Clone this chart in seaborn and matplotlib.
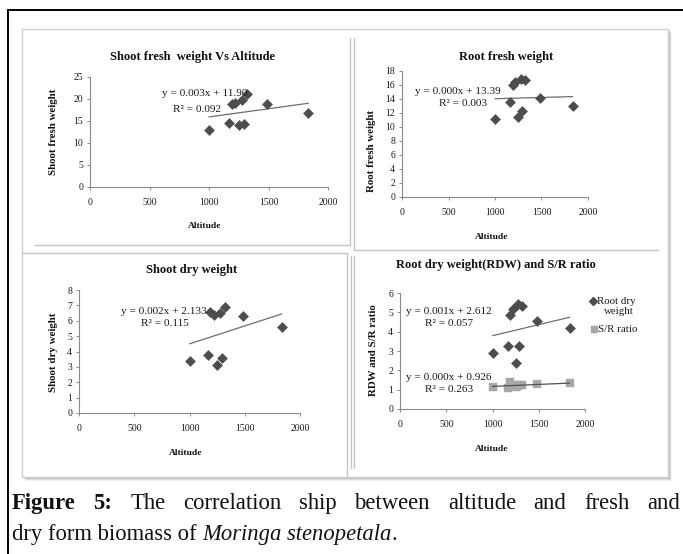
import matplotlib
matplotlib.use("Agg")
import matplotlib.pyplot as plt
import seaborn as sns
import numpy as np
import pandas as pd
from matplotlib.lines import Line2D
from matplotlib.patches import Rectangle

# ---------------- data ----------------
altitude = [1000, 1165, 1190, 1220, 1250, 1280, 1290, 1320, 1485, 1835]
shoot_fresh = [12.9, 14.5, 18.9, 19.2, 14.1, 19.8, 14.25, 21.1, 18.9, 16.9]
root_fresh = [11.1, 13.5, 16.0, 16.4, 11.4, 16.9, 12.3, 16.7, 14.2, 13.0]
shoot_dry = [3.35, 3.8, 6.55, 6.35, 3.1, 6.5, 3.6, 6.9, 6.3, 5.6]
root_dry = [2.91, 3.27, 4.86, 5.16, 2.40, 5.43, 3.27, 5.35, 4.57, 4.17]
sr_ratio = [1.15, 1.08, 1.40, 1.23, 1.15, 1.20, 1.25, 1.22, 1.31, 1.32]

x_ticks = [0, 500, 1000, 1500, 2000]
titles = ["Shoot fresh  weight Vs Altitude", "Root fresh weight",
          "Shoot dry weight", "Root dry weight(RDW) and S/R ratio"]
ylabels = ["Shoot fresh weight", "Root fresh weight",
           "Shoot dry weight", "RDW and S/R ratio"]
equations = [("y = 0.003x + 11.90", "R\u00b2 = 0.092"),
             ("y = 0.000x + 13.39", "R\u00b2 = 0.003"),
             ("y = 0.002x + 2.133", "R\u00b2 = 0.115"),
             ("y = 0.001x + 2.612", "R\u00b2 = 0.057")]
eq_sr = ("y = 0.000x + 0.926", "R\u00b2 = 0.263")
legend_labels = ["Root dry", "weight", "S/R ratio"]

df = pd.DataFrame({"Altitude": altitude, "shoot_fresh": shoot_fresh,
                   "root_fresh": root_fresh, "shoot_dry": shoot_dry,
                   "root_dry": root_dry, "sr_ratio": sr_ratio})

# ---------------- style ----------------
sns.set_style("white")
plt.rcParams["font.family"] = ["Liberation Serif", "DejaVu Serif"]

W, H = 683, 554
fig = plt.figure(figsize=(W / 100, H / 100), dpi=100)
fig.patch.set_facecolor("white")


def fx(x):
    return x / W


def fy(y):
    return 1 - y / H


# outer black frame
fig.add_artist(Line2D([fx(8), fx(8)], [fy(10), fy(554)], color="black", lw=1.4, zorder=-1))
fig.add_artist(Line2D([fx(8), fx(683)], [fy(10), fy(10)], color="black", lw=1.4, zorder=-1))

# panel box with soft shadow
for off, a in [(4, 0.10), (3, 0.18), (2, 0.28)]:
    fig.add_artist(Rectangle((fx(22 + off), fy(477 + off)), fx(646), 448 / H,
                             facecolor="#808080", edgecolor="none", alpha=a, zorder=-3))
fig.add_artist(Rectangle((fx(22), fy(477)), fx(646), 448 / H,
                         facecolor="white", edgecolor="#cfcfcf", lw=1.0, zorder=-2))

sep = "#c4c4c4"
seg = [((350, 38), (350, 245)), ((35, 245), (350, 245)),
       ((354, 38), (354, 250)), ((354, 250), (658, 250)),
       ((22, 253), (347, 253)), ((347, 253), (347, 476)),
       ((351, 256), (351, 468)), ((354, 256), (354, 468))]
for (x0, y0), (x1, y1) in seg:
    fig.add_artist(Line2D([fx(x0), fx(x1)], [fy(y0), fy(y1)], color=sep, lw=1.0, zorder=-1))

# axes rectangles (pixels: left, right, top, bottom)
boxes = [(90, 328, 77, 187), (402, 588, 71, 197), (79, 300, 290, 413), (400, 585, 293, 409)]
ylims = [(0, 25, 5), (0, 18, 2), (0, 8, 1), (0, 6, 1)]
series = ["shoot_fresh", "root_fresh", "shoot_dry", "root_dry"]

mark_col = "#4d4d4d"
line_col = "#6e6e6e"
axis_col = "#8a8a8a"
txt_col = "#1a1a1a"

axes = []
for (l, r, t, b), (y0, y1, ys), col in zip(boxes, ylims, series):
    ax = fig.add_axes([fx(l), fy(b), (r - l) / W, (b - t) / H])
    ax.set_zorder(2)
    ax.set_facecolor("none")
    sns.regplot(data=df, x="Altitude", y=col, ax=ax, scatter=False, ci=None,
                line_kws=dict(color=line_col, lw=0.9))
    sns.scatterplot(data=df, x="Altitude", y=col, ax=ax, marker="D", s=26,
                    color=mark_col, edgecolor=mark_col, linewidth=0.4, zorder=3)
    ax.set_xlim(0, 2000)
    ax.set_ylim(y0, y1)
    ax.set_xticks(x_ticks)
    ax.set_yticks(np.arange(y0, y1 + 0.01, ys))
    ax.set_xlabel("")
    ax.set_ylabel("")
    for s in ["top", "right"]:
        ax.spines[s].set_visible(False)
    for s in ["left", "bottom"]:
        ax.spines[s].set_color(axis_col)
        ax.spines[s].set_linewidth(0.8)
    ax.tick_params(axis="x", length=2.5, width=0.7, color=axis_col, pad=5.5,
                   labelsize=7, labelcolor=txt_col, direction="out", bottom=True)
    ax.tick_params(axis="y", length=2.5, width=0.7, color=axis_col, pad=2.5,
                   labelsize=7, labelcolor=txt_col, direction="out", left=True)
    axes.append(ax)

# S/R ratio series on the last panel
ax4 = axes[3]
sns.regplot(data=df, x="Altitude", y="sr_ratio", ax=ax4, scatter=False, ci=None,
            line_kws=dict(color="#505050", lw=0.9, zorder=4))
sns.scatterplot(data=df, x="Altitude", y="sr_ratio", ax=ax4, marker="s", s=40,
                color="#a8a8a8", edgecolor="#a8a8a8", linewidth=0.3, zorder=2)
ax4.set_xlabel("")
ax4.set_ylabel("")
ax4.set_xlim(0, 2000)
ax4.set_ylim(0, 6)

# titles, axis labels, equations (figure pixel positions)
title_pos = [(192, 57), (506, 57), (192, 270), (496, 265)]
ylab_pos = [(53, 132), (372, 151), (53, 352), (373, 350)]
xlab_pos = [(205, 226), (492, 237), (186, 453), (492, 449)]
eq_pos = [((205, 94), (197, 109)), ((458, 91), (463, 103)),
          ((164, 311), (165, 323)), ((449, 312), (449, 324))]
eq_fs = 8.1

for i in range(4):
    fig.text(fx(title_pos[i][0]), fy(title_pos[i][1]), titles[i], ha="center", va="center",
             fontsize=9, fontweight="bold", color="#111111", zorder=5)
    fig.text(fx(ylab_pos[i][0]), fy(ylab_pos[i][1]), ylabels[i], ha="center", va="center",
             rotation=90, fontsize=7.8, fontweight="bold", color="#111111", zorder=5)
    fig.text(fx(xlab_pos[i][0]), fy(xlab_pos[i][1]), "Altitude", ha="center", va="center",
             fontsize=6.8, fontweight="bold", color="#111111", zorder=5)
    (e1, e2) = equations[i]
    (p1, p2) = eq_pos[i]
    fig.text(fx(p1[0]), fy(p1[1]), e1, ha="center", va="center", fontsize=eq_fs,
             color=txt_col, zorder=5)
    fig.text(fx(p2[0]), fy(p2[1]), e2, ha="center", va="center", fontsize=eq_fs,
             color=txt_col, zorder=5)

fig.text(fx(449), fy(377), eq_sr[0], ha="center", va="center", fontsize=eq_fs, color=txt_col, zorder=5)
fig.text(fx(449), fy(389), eq_sr[1], ha="center", va="center", fontsize=eq_fs, color=txt_col, zorder=5)

# legend of last panel
fig.add_artist(Line2D([fx(593)], [fy(301)], marker="D", ms=3.6, color=mark_col, ls="", zorder=5))
fig.text(fx(597), fy(301), legend_labels[0], ha="left", va="center", fontsize=7.8, color=txt_col, zorder=5)
fig.text(fx(619), fy(312), legend_labels[1], ha="center", va="center", fontsize=7.8, color=txt_col, zorder=5)
fig.add_artist(Line2D([fx(594)], [fy(329)], marker="s", ms=4.5, color="#a8a8a8", ls="", zorder=5))
fig.text(fx(598), fy(329), legend_labels[2], ha="left", va="center", fontsize=7.8, color=txt_col, zorder=5)

# ---------------- caption ----------------
renderer = fig.canvas.get_renderer()
cap_fs = 16.3


def width_of(s, **kw):
    t = fig.text(0, 0, s, fontsize=cap_fs, **kw)
    w = t.get_window_extent(renderer).width
    t.remove()
    return w


line1 = [("Figure", dict(fontweight="bold")), ("5:", dict(fontweight="bold")),
         ("The", {}), ("correlation", {}), ("ship", {}), ("between", {}),
         ("altitude", {}), ("and", {}), ("fresh", {}), ("and", {})]
widths = [width_of(w, **kw) for w, kw in line1]
x_left, x_right = 12, 680
gap = (x_right - x_left - sum(widths)) / (len(line1) - 1)
x = x_left
for (w, kw), wd in zip(line1, widths):
    fig.text(fx(x), fy(509), w, ha="left", va="baseline", fontsize=cap_fs, color="#111111", **kw)
    x += wd + gap

space = width_of("a a") - width_of("aa")
line2 = [("dry form biomass of ", {}), ("Moringa stenopetala", dict(style="italic")), (".", {})]
x = x_left
for w, kw in line2:
    fig.text(fx(x), fy(540), w, ha="left", va="baseline", fontsize=cap_fs, color="#111111", **kw)
    wd = width_of(w, **kw)
    if w.endswith(" "):
        wd = width_of(w.rstrip(), **kw) + space
    x += wd

fig.savefig("out.png", dpi=100, facecolor="white")
